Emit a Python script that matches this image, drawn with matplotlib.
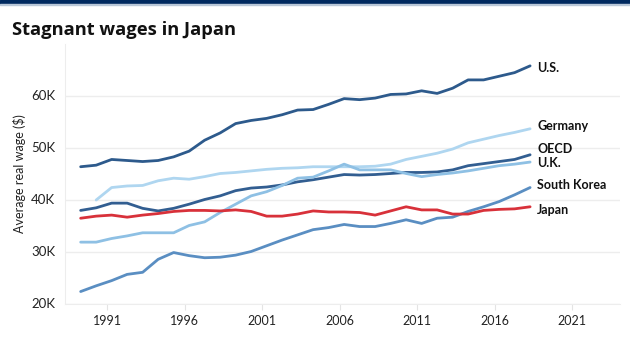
import numpy as np
import matplotlib
matplotlib.use("Agg")
import matplotlib.pyplot as plt
from matplotlib.patches import Rectangle

plt.rcParams['font.family'] = ['Lato', 'DejaVu Sans']

# average real wage, thousands of US$, 1990-2019
years = np.arange(1990, 2020)
us = [46.3, 46.6, 47.7, 47.5, 47.3, 47.5, 48.2, 49.3, 51.4, 52.8,
      54.6, 55.2, 55.6, 56.3, 57.2, 57.3, 58.3, 59.4, 59.2, 59.5,
      60.2, 60.3, 60.9, 60.4, 61.4, 63.0, 63.0, 63.7, 64.4, 65.7]
germany = [np.nan, 39.9, 42.3, 42.6, 42.7, 43.6, 44.1, 43.9, 44.4, 45.0,
           45.2, 45.5, 45.8, 46.0, 46.1, 46.3, 46.3, 46.3, 46.3, 46.4,
           46.8, 47.7, 48.3, 48.9, 49.7, 50.9, 51.6, 52.3, 52.9, 53.6]
oecd = [37.9, 38.4, 39.3, 39.3, 38.3, 37.8, 38.3, 39.1, 40.0, 40.7,
        41.7, 42.2, 42.4, 42.8, 43.4, 43.8, 44.3, 44.8, 44.7, 44.8,
        45.0, 45.2, 45.2, 45.3, 45.7, 46.5, 46.9, 47.3, 47.7, 48.6]
uk = [31.8, 31.8, 32.5, 33.0, 33.6, 33.6, 33.6, 35.0, 35.7, 37.5,
      39.1, 40.7, 41.5, 42.7, 44.1, 44.3, 45.5, 46.8, 45.7, 45.7,
      45.7, 45.0, 44.4, 44.8, 45.1, 45.5, 46.0, 46.5, 46.8, 47.2]
south_korea = [22.3, 23.4, 24.4, 25.6, 26.0, 28.5, 29.8, 29.2, 28.8, 28.9,
               29.3, 30.0, 31.1, 32.2, 33.2, 34.2, 34.6, 35.2, 34.8, 34.8,
               35.4, 36.1, 35.4, 36.4, 36.6, 37.7, 38.6, 39.6, 40.9, 42.3]
japan = [36.4, 36.8, 37.0, 36.6, 37.0, 37.3, 37.7, 37.9, 37.9, 37.8,
         38.0, 37.7, 36.8, 36.8, 37.2, 37.8, 37.6, 37.6, 37.5, 37.0,
         37.8, 38.6, 38.0, 38.0, 37.2, 37.2, 37.9, 38.1, 38.2, 38.6]

names = ['U.S.', 'Germany', 'OECD', 'U.K.', 'South Korea', 'Japan']
series = [us, germany, oecd, uk, south_korea, japan]
colors = ['#2d5a8c', '#afd6f0', '#325e91', '#8ec0e4', '#5a8ec2', '#d8313a']
label_y = [65.2, 54.2, 49.8, 47.0, 42.7, 38.0]  # nudged to avoid overlap

tick_years = [1991, 1996, 2001, 2006, 2011, 2016, 2021]
ytick_vals = [20, 30, 40, 50, 60]

fig = plt.figure(figsize=(6.3, 3.54), dpi=100)

# navy strip along the top
fig.patches.append(Rectangle((0, 1 - 4 / 354), 1, 4 / 354, transform=fig.transFigure,
                             color='#00295f', zorder=5))
fig.patches.append(Rectangle((0, 1 - 5 / 354), 1, 1 / 354, transform=fig.transFigure,
                             color='#b9c7d8', zorder=5))

fig.text(12 / 630, 1 - 30 / 354, 'Stagnant wages in Japan', fontsize=13.2,
         fontweight='bold', family=['Open Sans', 'DejaVu Sans'], color='#111111',
         va='center', ha='left')

ax = fig.add_axes([65 / 630, 1 - 303.5 / 354, 555 / 630, 260 / 354])

for vals, c in zip(series, colors):
    ax.plot(years, vals, color=c, lw=2.0, solid_capstyle='round', solid_joinstyle='round')

for name, ly in zip(names, label_y):
    ax.text(years[-1] + 0.45, ly, name, fontsize=9, fontweight='bold',
            color='#111111', va='center', ha='left')

ax.set_xlim(1988.99, 2024.8)
ax.set_ylim(20, 70)
ax.set_xticks([y + 0.72 for y in tick_years])
ax.set_xticklabels([str(y) for y in tick_years])
ax.set_yticks(ytick_vals)
ax.set_yticklabels(['%dK' % v for v in ytick_vals])
ax.tick_params(axis='x', length=4, color='#e4e4e4', labelsize=9, labelcolor='#222222', pad=4)
ax.tick_params(axis='y', length=0, labelsize=9.5, labelcolor='#222222', pad=7)
ax.grid(axis='y', color='#ededed', lw=1)
ax.set_axisbelow(True)
for s in ['top', 'right']:
    ax.spines[s].set_visible(False)
ax.spines['left'].set_color('#ededed')
ax.spines['bottom'].set_color('#ededed')
ax.set_ylabel('Average real wage ($)', fontsize=9, color='#222222', labelpad=4)

fig.savefig('out.png', dpi=100, facecolor='white')
